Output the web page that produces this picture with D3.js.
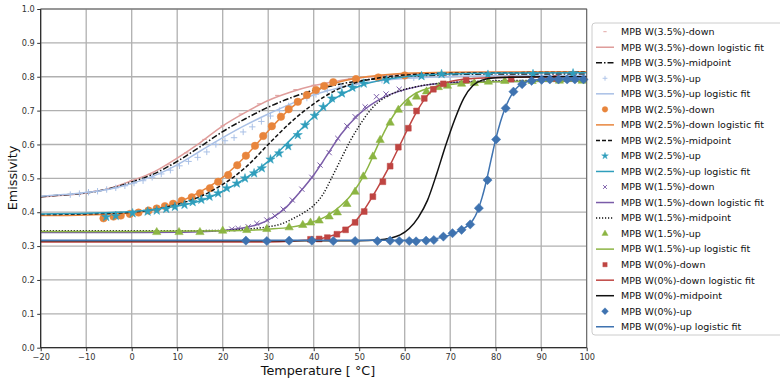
<!DOCTYPE html>
<html><head><meta charset="utf-8">
<script src="https://cdn.jsdelivr.net/npm/d3@7"></script>
<style>
html,body{margin:0;padding:0;background:#fff;}
text{font-family:"DejaVu Sans",sans-serif;}
</style></head>
<body><svg id="c" width="780" height="381"></svg>
<script>
// ---- data ----
const xTicks = [-20,-10,0,10,20,30,40,50,60,70,80,90,100];
const yTicks = [0,0.1,0.2,0.3,0.4,0.5,0.6,0.7,0.8,0.9,1.0];

const w35DownPts = [[-12,0.455],[-8,0.462],[-4,0.473],[0,0.494],[4,0.512],[8,0.54],[12,0.575],[16,0.615],[20,0.655],[24,0.69],[28,0.72],[32,0.745],[36,0.762],[40,0.775],[44,0.786],[48,0.795]];
const w35DownFit = [[-20,0.445],[-15,0.45],[-10,0.457],[-5,0.47],[0,0.493],[5,0.52],[10,0.56],[15,0.605],[20,0.655],[25,0.695],[30,0.73],[35,0.755],[40,0.774],[45,0.787],[50,0.797],[55,0.803],[60,0.808],[70,0.812],[80,0.813],[100,0.813]];
const w35Mid = [[-20,0.446],[-15,0.451],[-10,0.457],[-5,0.469],[0,0.489],[5,0.514],[10,0.55],[15,0.593],[20,0.638],[25,0.676],[30,0.71],[35,0.738],[40,0.76],[45,0.776],[50,0.788],[60,0.8],[70,0.806],[80,0.808],[100,0.808]];
const w35UpPts = [[-13.5,0.452],[-11.5,0.455],[-9.5,0.459],[-7.5,0.462],[-5.5,0.467],[-3.5,0.472],[-1.5,0.478],[0.5,0.486],[2.5,0.493],[4.5,0.503],[6.5,0.513],[8.5,0.524],[10.5,0.537],[12.5,0.55],[14.5,0.562],[16.5,0.578],[18.5,0.6],[20.5,0.611],[22.5,0.62],[24.5,0.637],[26.5,0.652],[28.5,0.668],[30.5,0.684],[32.5,0.7],[34.5,0.714],[36.5,0.726],[38.5,0.737],[40.5,0.748],[43,0.76],[46,0.772],[50,0.781],[55,0.79],[62,0.797],[70,0.8],[80,0.803],[90,0.804]];
const w35UpFit = [[-20,0.447],[-15,0.452],[-10,0.458],[-5,0.468],[0,0.485],[5,0.508],[10,0.54],[15,0.58],[20,0.62],[25,0.657],[30,0.69],[35,0.72],[40,0.746],[45,0.765],[50,0.779],[55,0.789],[60,0.795],[70,0.801],[80,0.803],[100,0.804]];

const w25DownPts = [[-6.2,0.382],[-4.0,0.387],[-2.4,0.39],[-0.4,0.395],[1.5,0.399],[3.7,0.405],[5.5,0.411],[7.3,0.418],[9.1,0.425],[11.0,0.434],[13.2,0.444],[15.0,0.456],[17.2,0.471],[19.0,0.49],[21.2,0.51],[23.2,0.539],[25.1,0.567],[27.1,0.596],[28.9,0.625],[30.8,0.654],[32.8,0.682],[34.5,0.704],[36.5,0.726],[38.5,0.746],[40.5,0.761],[42.3,0.773],[44.3,0.784],[49.3,0.793],[54.2,0.798],[60,0.804]];
const w25DownFit = [[-20,0.39],[-10,0.392],[0,0.398],[5,0.408],[10,0.428],[15,0.46],[20,0.503],[25,0.565],[30,0.64],[35,0.708],[40,0.755],[45,0.782],[50,0.797],[55,0.805],[60,0.81],[70,0.813],[100,0.815]];
const w25Mid = [[-20,0.393],[-10,0.395],[0,0.4],[5,0.408],[10,0.423],[15,0.446],[20,0.482],[25,0.532],[30,0.6],[35,0.666],[40,0.72],[45,0.761],[50,0.785],[55,0.798],[60,0.805],[70,0.81],[100,0.813]];
const w25UpPts = [[-5.6,0.386],[-3.5,0.389],[0.2,0.397],[3.5,0.402],[5.5,0.405],[7.6,0.41],[9.5,0.416],[11.6,0.422],[13.4,0.43],[15.3,0.437],[17.1,0.446],[19.0,0.456],[20.9,0.471],[23.1,0.485],[24.9,0.5],[26.9,0.515],[28.6,0.53],[30.5,0.556],[32.4,0.574],[34.4,0.595],[36.5,0.628],[38.1,0.657],[40.2,0.685],[42.1,0.711],[44.0,0.736],[46.2,0.751],[48.5,0.768],[51,0.78],[56,0.79],[63.7,0.802],[68.1,0.808],[78.3,0.806],[88.2,0.808],[97,0.81]];
const w25UpFit = [[-20,0.395],[-10,0.397],[0,0.402],[5,0.408],[10,0.418],[15,0.433],[20,0.462],[25,0.5],[30,0.55],[35,0.615],[40,0.682],[45,0.738],[50,0.772],[55,0.79],[60,0.8],[70,0.808],[80,0.811],[100,0.812]];

const w15DownPts = [[22.0,0.35],[23.4,0.352],[25.6,0.357],[27.5,0.367],[29.7,0.377],[31.5,0.389],[33.3,0.409],[35.3,0.436],[37.4,0.468],[39.6,0.503],[41.4,0.539],[43.4,0.576],[45.3,0.618],[47.3,0.655],[49.1,0.682],[51.3,0.711],[53.8,0.741],[55.9,0.749],[58.8,0.763]];
const w15DownFit = [[-20,0.34],[0,0.34],[10,0.341],[15,0.342],[20,0.346],[25,0.355],[28,0.365],[31,0.385],[34,0.415],[37,0.46],[40,0.51],[43,0.57],[46,0.63],[50,0.69],[55,0.737],[60,0.762],[65,0.776],[70,0.782],[80,0.786],[100,0.787]];
const w15Mid = [[-20,0.345],[0,0.345],[20,0.346],[25,0.35],[30,0.357],[33,0.366],[36,0.385],[38,0.4],[40,0.42],[42,0.452],[44,0.503],[46,0.557],[48,0.61],[50,0.655],[53,0.71],[57,0.748],[62,0.769],[68,0.781],[80,0.788],[100,0.79]];
const w15UpPts = [[5.5,0.341],[10.4,0.341],[15.0,0.341],[20.0,0.345],[25.3,0.347],[29.7,0.35],[34.6,0.355],[37.6,0.362],[39.3,0.369],[41.2,0.375],[43.4,0.387],[45.2,0.399],[47.3,0.424],[49.1,0.46],[50.9,0.505],[53.0,0.564],[54.6,0.613],[56.8,0.664],[58.6,0.702],[60.8,0.722],[62.6,0.741],[64.8,0.756],[67.4,0.769],[69.4,0.773],[72.5,0.779],[75.3,0.781],[78.4,0.785],[82,0.787],[88,0.787],[94,0.788],[99,0.788]];
const w15UpFit = [[-20,0.343],[0,0.343],[20,0.345],[30,0.35],[35,0.356],[40,0.372],[43,0.39],[46,0.42],[48,0.447],[50,0.485],[52,0.535],[54,0.595],[56,0.65],[58,0.695],[60,0.727],[62,0.748],[65,0.765],[70,0.777],[80,0.785],[100,0.788]];

const w0DownPts = [[39.3,0.32],[41.2,0.321],[43.0,0.325],[45.1,0.335],[47.0,0.348],[49.1,0.37],[51.1,0.402],[53.0,0.446],[55.2,0.49],[56.8,0.536],[58.6,0.592],[60.8,0.648],[62.6,0.699],[64.3,0.736],[66.3,0.763],[68.5,0.779],[73.5,0.79],[83.4,0.793],[93.3,0.795]];
const w0DownFit = [[-20,0.312],[30,0.312],[35,0.314],[38,0.317],[41,0.321],[43,0.327],[45,0.335],[47,0.349],[49,0.371],[51,0.405],[53,0.448],[55,0.495],[57,0.545],[59,0.6],[61,0.655],[63,0.705],[65,0.745],[67,0.77],[70,0.786],[75,0.795],[80,0.798],[100,0.8]];
const w0Mid = [[-20,0.316],[50,0.316],[54,0.318],[57,0.324],[59,0.333],[61,0.352],[63,0.385],[65,0.435],[67,0.512],[69,0.597],[71,0.674],[73,0.737],[75,0.774],[77,0.79],[80,0.797],[90,0.8],[100,0.8]];
const w0UpPts = [[25.1,0.316],[29.7,0.315],[34.6,0.316],[39.6,0.316],[44.3,0.315],[49.1,0.315],[54.0,0.315],[56.8,0.316],[58.8,0.315],[61.0,0.315],[62.5,0.314],[64.7,0.316],[66.4,0.318],[68.5,0.328],[70.5,0.338],[72.5,0.348],[74.4,0.364],[76.3,0.412],[78.2,0.495],[80.1,0.615],[82.2,0.707],[83.9,0.756],[85.8,0.778],[87.9,0.788],[90.1,0.791],[91.9,0.792],[93.8,0.792],[95.7,0.792],[97.4,0.792],[99.3,0.792]];
const w0UpFit = [[-20,0.317],[60,0.317],[65,0.319],[68,0.325],[70,0.333],[72,0.345],[74,0.362],[75,0.377],[76,0.403],[77,0.443],[78,0.495],[79,0.556],[80,0.615],[81,0.665],[82,0.705],[83,0.735],[84,0.757],[85,0.772],[87,0.786],[90,0.793],[95,0.796],[100,0.797]];

const legendLabels = ["MPB W(3.5%)-down","MPB W(3.5%)-down logistic fit","MPB W(3.5%)-midpoint","MPB W(3.5%)-up","MPB W(3.5%)-up logistic fit",
 "MPB W(2.5%)-down","MPB W(2.5%)-down logistic fit","MPB W(2.5%)-midpoint","MPB W(2.5%)-up","MPB W(2.5%)-up logistic fit",
 "MPB W(1.5%)-down","MPB W(1.5%)-down logistic fit","MPB W(1.5%)-midpoint","MPB W(1.5%)-up","MPB W(1.5%)-up logistic fit",
 "MPB W(0%)-down","MPB W(0%)-down logistic fit","MPB W(0%)-midpoint","MPB W(0%)-up","MPB W(0%)-up logistic fit"];

// ---- styles ----
const C = {pink:"#df9d9b", lblue:"#a9c0e6", orange:"#e8853c", teal:"#2f9ebc", purple:"#7a5ca8", green:"#8cb543", red:"#bf4542", blue:"#3f73b0"};

const series = [
 {type:"pts", data:w35DownPts, color:C.pink, marker:"dash"},
 {type:"line", data:w35DownFit, color:C.pink},
 {type:"line", data:w35Mid, color:"#111", dash:"6,2,1.5,2"},
 {type:"pts", data:w35UpPts, color:C.lblue, marker:"plus"},
 {type:"line", data:w35UpFit, color:C.lblue},
 {type:"pts", data:w25DownPts, color:C.orange, marker:"circle"},
 {type:"line", data:w25DownFit, color:C.orange},
 {type:"line", data:w25Mid, color:"#111", dash:"4,2"},
 {type:"pts", data:w25UpPts, color:C.teal, marker:"star"},
 {type:"line", data:w25UpFit, color:C.teal},
 {type:"pts", data:w15DownPts, color:C.purple, marker:"x"},
 {type:"line", data:w15DownFit, color:C.purple},
 {type:"line", data:w15Mid, color:"#111", dash:"1.2,1.8"},
 {type:"pts", data:w15UpPts, color:C.green, marker:"triangle"},
 {type:"line", data:w15UpFit, color:C.green},
 {type:"pts", data:w0DownPts, color:C.red, marker:"square"},
 {type:"line", data:w0DownFit, color:C.red},
 {type:"line", data:w0Mid, color:"#111"},
 {type:"pts", data:w0UpPts, color:C.blue, marker:"diamond"},
 {type:"line", data:w0UpFit, color:C.blue}
];

const svg = d3.select("#c");
const x = d3.scaleLinear().domain([-20,100]).range([40.7,586.7]);
const y = d3.scaleLinear().domain([0,1]).range([347.7,9]);

// grid
const g = svg.append("g");
g.selectAll(".gx").data(xTicks).join("line").attr("x1",d=>x(d)).attr("x2",d=>x(d)).attr("y1",y(0)).attr("y2",y(1))
 .attr("stroke","#b0b0b0").attr("stroke-width",1.3);
g.selectAll(".gy").data(yTicks).join("line").attr("y1",d=>y(d)).attr("y2",d=>y(d)).attr("x1",x(-20)).attr("x2",x(100))
 .attr("stroke","#b0b0b0").attr("stroke-width",1.3);

// markers
function markerPath(m, s){
  switch(m){
    case "circle": return d3.symbol(d3.symbolCircle, 44)();
    case "square": return d3.symbol(d3.symbolSquare, 34)();
    case "triangle": return d3.symbol(d3.symbolTriangle, 30)();
    case "star": return d3.symbol(d3.symbolStar, 26)();
    case "diamond": { const r=4.6; return `M0,${-r}L${r},0L0,${r}L${-r},0Z`; }
    case "plus": { const r=3.2; return `M${-r},0H${r}M0,${-r}V${r}`; }
    case "x": { const r=2.6; return `M${-r},${-r}L${r},${r}M${-r},${r}L${r},${-r}`; }
    case "dash": { const r=2.2; return `M${-r},0H${r}`; }
  }
}
const stroked = m => (m==="plus"||m==="x"||m==="dash");

const line = d3.line().x(d=>x(d[0])).y(d=>y(d[1])).curve(d3.curveMonotoneX);
const plot = svg.append("g");
series.forEach(s=>{
  if(s.type==="line"){
    plot.append("path").attr("d",line(s.data)).attr("fill","none").attr("stroke",s.color)
      .attr("stroke-width",1.5).attr("stroke-dasharray",s.dash||null);
  } else {
    const p = markerPath(s.marker);
    plot.selectAll(null).data(s.data).join("path").attr("d",p)
      .attr("transform",d=>`translate(${x(d[0])},${y(d[1])})`)
      .attr("fill",stroked(s.marker)?"none":s.color)
      .attr("stroke",s.color).attr("stroke-width",stroked(s.marker)?1:0.5);
  }
});

// frame
svg.append("rect").attr("x",x(-20)).attr("y",y(1)).attr("width",x(100)-x(-20)).attr("height",y(0)-y(1))
 .attr("fill","none").attr("stroke","#555").attr("stroke-width",0.8);
svg.append("line").attr("x1",x(-20)).attr("x2",x(100)).attr("y1",y(0)).attr("y2",y(0)).attr("stroke","#222").attr("stroke-width",1);
svg.append("line").attr("x1",x(-20)).attr("x2",x(-20)).attr("y1",y(0)).attr("y2",y(1)).attr("stroke","#222").attr("stroke-width",1);

// axes
const fmtX = d => d<0 ? "\u2212"+Math.abs(d) : String(d);
const ax = svg.append("g").attr("transform",`translate(0,${y(0)})`)
  .call(d3.axisBottom(x).tickValues(xTicks).tickFormat(fmtX).tickSize(3.5).tickPadding(2.5));
const ay = svg.append("g").attr("transform",`translate(${x(-20)},0)`)
  .call(d3.axisLeft(y).tickValues(yTicks).tickFormat(d3.format(".1f")).tickSize(3.5).tickPadding(2.5));
[ax,ay].forEach(a=>{
  a.select(".domain").remove();
  a.selectAll("text").attr("font-size",8.2).attr("fill","#333").attr("font-family","DejaVu Sans");
  a.selectAll(".tick line").attr("stroke","#333");
});

svg.append("text").attr("x",318).attr("y",375).attr("text-anchor","middle").attr("font-size",12.8).attr("fill","#111")
  .text("Temperature [ \u00B0C]");
svg.append("text").attr("transform","translate(17,178) rotate(-90)").attr("text-anchor","middle").attr("font-size",12.8).attr("fill","#111")
  .text("Emissivity");

// legend
const lg = svg.append("g");
lg.append("rect").attr("x",592).attr("y",23).attr("width",200).attr("height",312).attr("rx",3)
  .attr("fill","#fff").attr("stroke","#cccccc").attr("stroke-width",1);
series.forEach((s,i)=>{
  const cy = 31.7 + i*15.53;
  if(s.type==="line"){
    lg.append("line").attr("x1",596).attr("x2",614).attr("y1",cy).attr("y2",cy)
      .attr("stroke",s.color).attr("stroke-width",1.5).attr("stroke-dasharray",s.dash||null);
  } else {
    lg.append("path").attr("d",markerPath(s.marker)).attr("transform",`translate(605,${cy}) scale(0.75)`)
      .attr("fill",stroked(s.marker)?"none":s.color).attr("stroke",s.color).attr("stroke-width",stroked(s.marker)?1.2:0.5);
  }
  lg.append("text").attr("x",621).attr("y",cy).attr("dy","0.35em").attr("font-size",9.5).attr("fill","#111").text(legendLabels[i]);
});
</script>
</body></html>
